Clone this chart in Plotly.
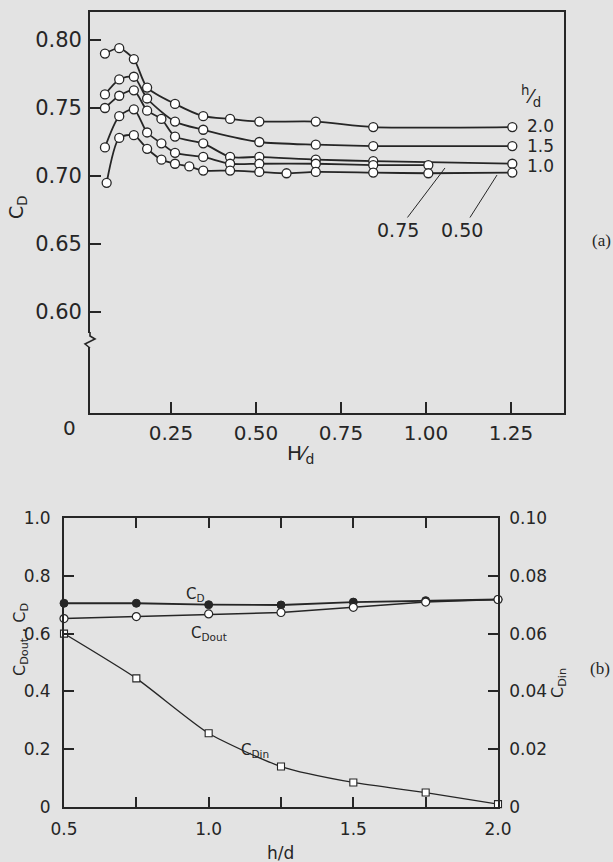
import plotly.graph_objects as go

# ---------------- data: (a) C_D vs H/d for several h/d ----------------
hd20_x = [0.056, 0.098, 0.141, 0.180, 0.262, 0.345, 0.424, 0.510, 0.676, 0.845, 1.254]
hd20_y = [0.790, 0.794, 0.786, 0.765, 0.753, 0.744, 0.742, 0.740, 0.740, 0.736, 0.736]

hd15_x = [0.056, 0.098, 0.141, 0.180, 0.262, 0.345, 0.510, 0.676, 0.845, 1.254]
hd15_y = [0.760, 0.771, 0.773, 0.757, 0.740, 0.734, 0.725, 0.723, 0.722, 0.722]

hd10_x = [0.056, 0.098, 0.141, 0.180, 0.222, 0.262, 0.345, 0.424, 0.510, 0.676, 0.845, 1.254]
hd10_y = [0.750, 0.759, 0.763, 0.748, 0.742, 0.729, 0.724, 0.714, 0.714, 0.712, 0.711, 0.709]

hd075_x = [0.056, 0.098, 0.141, 0.180, 0.222, 0.262, 0.345, 0.424, 0.510, 0.676, 0.845, 1.007]
hd075_y = [0.721, 0.744, 0.749, 0.732, 0.724, 0.717, 0.714, 0.709, 0.709, 0.709, 0.708, 0.708]

hd050_x = [0.061, 0.098, 0.141, 0.180, 0.222, 0.262, 0.304, 0.345, 0.424, 0.510, 0.590, 0.676, 0.845, 1.007, 1.254]
hd050_y = [0.695, 0.728, 0.730, 0.720, 0.712, 0.709, 0.707, 0.704, 0.704, 0.703, 0.702, 0.703, 0.7025, 0.702, 0.7025]

top_xticks = [0.25, 0.50, 0.75, 1.00, 1.25]
top_xticklabels = ["0.25", "0.50", "0.75", "1.00", "1.25"]
top_yticks = [0.60, 0.65, 0.70, 0.75, 0.80]
top_yticklabels = ["0.60", "0.65", "0.70", "0.75", "0.80"]

# ---------------- data: (b) C_D, C_Dout, C_Din vs h/d ----------------
hd = [0.5, 0.75, 1.0, 1.25, 1.5, 1.75, 2.0]
cd = [0.705, 0.705, 0.700, 0.699, 0.709, 0.714, 0.718]
cdout = [0.652, 0.659, 0.668, 0.673, 0.691, 0.709, 0.718]
cdin = [0.0600, 0.0445, 0.0255, 0.0140, 0.0085, 0.0050, 0.0010]

bot_xticks = [0.5, 0.75, 1.0, 1.25, 1.5, 1.75, 2.0]
bot_xticklabels = ["0.5", "", "1.0", "", "1.5", "", "2.0"]
bot_yticks = [0, 0.2, 0.4, 0.6, 0.8, 1.0]
bot_yticklabels = ["0", "0.2", "0.4", "0.6", "0.8", "1.0"]
bot_y2ticks = [0, 0.02, 0.04, 0.06, 0.08, 0.10]
bot_y2ticklabels = ["0", "0.02", "0.04", "0.06", "0.08", "0.10"]

W, H = 613, 862
INK = "#262626"
BG = "#e3e3e3"
FONT = "DejaVu Sans"


def px(x):
    return x / W


def py(y):
    return 1 - y / H


fig = go.Figure()

open_marker = dict(symbol="circle", size=9, color="white", line=dict(color=INK, width=1.3))
for xs, ys in [(hd20_x, hd20_y), (hd15_x, hd15_y), (hd10_x, hd10_y),
               (hd075_x, hd075_y), (hd050_x, hd050_y)]:
    fig.add_trace(go.Scatter(x=xs, y=ys, mode="lines+markers",
                             line=dict(color=INK, width=1.8, shape="spline", smoothing=0.7),
                             marker=open_marker, xaxis="x", yaxis="y",
                             cliponaxis=False, showlegend=False, hoverinfo="skip"))

# (b)
fig.add_trace(go.Scatter(x=hd, y=cd, mode="lines+markers",
                         line=dict(color=INK, width=1.8),
                         marker=dict(symbol="circle", size=8, color=INK, line=dict(color=INK, width=1)),
                         xaxis="x2", yaxis="y2", cliponaxis=False, showlegend=False))
fig.add_trace(go.Scatter(x=hd, y=cdout, mode="lines+markers",
                         line=dict(color=INK, width=1.5),
                         marker=dict(symbol="circle", size=8, color="white", line=dict(color=INK, width=1.2)),
                         xaxis="x2", yaxis="y2", cliponaxis=False, showlegend=False))
fig.add_trace(go.Scatter(x=hd, y=cdin, mode="lines+markers",
                         line=dict(color=INK, width=1.3, shape="spline", smoothing=0.6),
                         marker=dict(symbol="square", size=7, color="white", line=dict(color=INK, width=1.1)),
                         xaxis="x2", yaxis="y3", cliponaxis=False, showlegend=False))

axis_common = dict(showgrid=False, zeroline=False, showline=True, linecolor=INK, linewidth=1.8,
                   ticks="inside", tickcolor=INK, tickwidth=1.5, ticklen=11, automargin=False,
                   tickfont=dict(family=FONT, size=19, color=INK))

fig.update_layout(
    width=W, height=H, autosize=False,
    margin=dict(l=0, r=0, t=0, b=0, pad=0),
    paper_bgcolor=BG, plot_bgcolor=BG,
    xaxis=dict(axis_common, domain=[px(90), px(564)], range=[0.012, 1.406], anchor="y",
               tickvals=top_xticks, ticktext=top_xticklabels, mirror=True,
               tickfont=dict(family=FONT, size=20, color=INK), ticklabelstandoff=1),
    yaxis=dict(axis_common, domain=[py(413), py(12)], range=[0.5257, 0.8206], anchor="x",
               tickvals=top_yticks, ticktext=top_yticklabels, mirror=True,
               tickfont=dict(family=FONT, size=21, color=INK), ticklabelstandoff=2),
    xaxis2=dict(axis_common, domain=[px(64), px(498)], range=[0.5, 2.0], anchor="y2",
                tickvals=bot_xticks, ticktext=bot_xticklabels, mirror="ticks", ticklen=10,
                tickfont=dict(family=FONT, size=17, color=INK), ticklabelstandoff=6),
    yaxis2=dict(axis_common, domain=[py(807), py(518)], range=[0, 1.0], anchor="x2",
                tickvals=bot_yticks, ticktext=bot_yticklabels, mirror=True, ticklen=10,
                tickfont=dict(family=FONT, size=17, color=INK), ticklabelstandoff=8),
    yaxis3=dict(axis_common, overlaying="y2", side="right", anchor="x2", range=[0, 0.1],
                tickvals=bot_y2ticks, ticktext=bot_y2ticklabels, ticklen=10,
                tickfont=dict(family=FONT, size=17, color=INK), ticklabelstandoff=6),
)

ann = []
def A(x, y, text, size=19, family=FONT, angle=0, xanchor="center", yanchor="middle"):
    ann.append(dict(x=px(x), y=py(y), xref="paper", yref="paper", text=text, showarrow=False,
                    font=dict(family=family, size=size, color=INK), textangle=angle,
                    xanchor=xanchor, yanchor=yanchor))

# (a) labels
A(69, 428, "0", size=20)
A(300, 454, "H⁄<sub>d</sub>", size=20)
A(17, 207, "C<sub>D</sub>", size=19, angle=-90)
A(531, 96, "<sup>h</sup>⁄<sub>d</sub>", size=19)
A(540, 126, "2.0", size=17)
A(540, 146, "1.5", size=17)
A(540, 166, "1.0", size=17)
A(601, 240, "(a)", size=17, family="Liberation Serif")

# leader labels 0.75 and 0.50
ann.append(dict(x=1.056, y=0.7059, xref="x", yref="y", text="0.75", showarrow=True,
                arrowhead=0, arrowwidth=1, arrowcolor=INK, ax=-47, ay=62, standoff=0,
                font=dict(family=FONT, size=19, color=INK)))
ann.append(dict(x=1.209, y=0.7007, xref="x", yref="y", text="0.50", showarrow=True,
                arrowhead=0, arrowwidth=1, arrowcolor=INK, ax=-35, ay=55, standoff=0,
                font=dict(family=FONT, size=19, color=INK)))

# (b) labels
A(20, 640, "C<sub>Dout</sub> , C<sub>D</sub>", size=16, angle=-90)
A(558, 683, "C<sub>Din</sub>", size=16, angle=-90)
A(280, 853, "h/d", size=17)
A(600, 668, "(b)", size=17, family="Liberation Serif")
ann.append(dict(x=0.955, y=0.737, xref="x2", yref="y2", text="C<sub>D</sub>", showarrow=False,
                font=dict(family=FONT, size=15, color=INK)))
ann.append(dict(x=1.0, y=0.60, xref="x2", yref="y2", text="C<sub>Dout</sub>", showarrow=False,
                font=dict(family=FONT, size=15, color=INK)))
ann.append(dict(x=1.16, y=0.0195, xref="x2", yref="y3", text="C<sub>Din</sub>", showarrow=False,
                font=dict(family=FONT, size=15, color=INK)))

fig.update_layout(annotations=ann)

# axis break squiggle on (a) left axis
squig = "M {} {} L {} {} L {} {} L {} {} L {} {}".format(
    px(90), py(332), px(90), py(336), px(95), py(339), px(85), py(344), px(90), py(348))
fig.add_shape(type="line", xref="paper", yref="paper", x0=px(90), x1=px(90), y0=py(333), y1=py(347),
              line=dict(color=BG, width=4))
fig.add_shape(type="path", xref="paper", yref="paper", path=squig, line=dict(color=INK, width=1.6))

fig.write_html("out.html",
               config={"displayModeBar": False},
               post_script="document.body.style.margin='0';document.body.style.padding='0';"
                           "document.body.style.background='%s';" % BG)
